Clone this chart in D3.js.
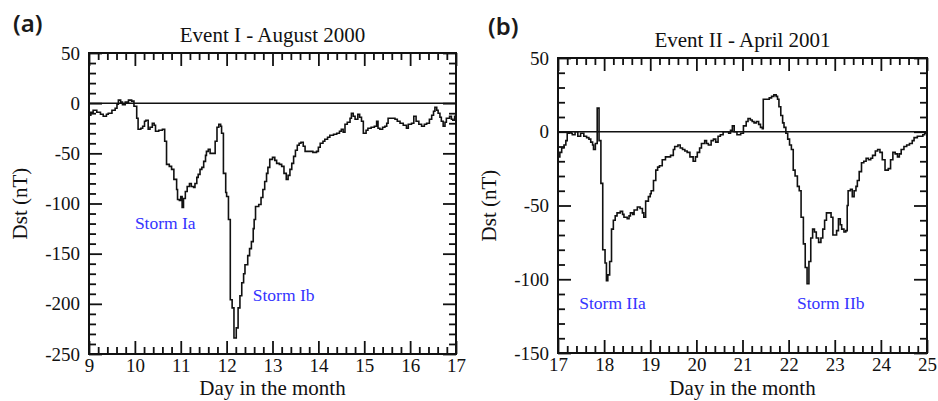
<!DOCTYPE html>
<html>
<head>
<meta charset="utf-8">
<script src="https://cdn.jsdelivr.net/npm/d3@7"></script>
<style>
  html, body { margin: 0; padding: 0; background: #fff; }
  svg { display: block; }
  .tick text { font-family: "Liberation Serif", "Times New Roman", serif; }
</style>
</head>
<body>
<svg id="chart" width="938" height="401"></svg>
<script>
// Hourly Dst index (nT) for two geomagnetic storm events, sampled as (day, value) steps.
const eventITitle = "Event I - August 2000";
const eventIITitle = "Event II - April 2001";

const dayTicksI = [9, 10, 11, 12, 13, 14, 15, 16, 17];
const dayTicksII = [17, 18, 19, 20, 21, 22, 23, 24, 25];
const dstTicksI = [50, 0, -50, -100, -150, -200, -250];
const dstTicksII = [50, 0, -50, -100, -150];

const daysI = [
  9.00, 9.04, 9.09, 9.17, 9.25, 9.31, 9.38, 9.42, 9.50, 9.57, 9.61, 9.64, 9.69, 9.73, 9.79, 9.86, 9.93, 9.98,
  10.04, 10.07, 10.13, 10.17, 10.21, 10.24, 10.29, 10.33, 10.38, 10.42, 10.45, 10.52, 10.60, 10.65, 10.69, 10.75,
  10.80, 10.85, 10.91, 10.93, 10.97, 11.00, 11.03, 11.06, 11.10, 11.14, 11.19, 11.23, 11.28, 11.31, 11.35, 11.38,
  11.42, 11.46, 11.50, 11.54, 11.56, 11.60, 11.64, 11.71, 11.75, 11.79, 11.83, 11.87, 11.89, 11.93, 11.98, 12.00,
  12.04, 12.08, 12.12, 12.16, 12.21, 12.25, 12.29, 12.33, 12.37, 12.40, 12.46, 12.50, 12.54, 12.58, 12.60, 12.63,
  12.70, 12.75, 12.79, 12.83, 12.87, 12.90, 12.94, 13.00, 13.05, 13.09, 13.15, 13.20, 13.25, 13.30, 13.34, 13.38,
  13.42, 13.46, 13.50, 13.54, 13.58, 13.62, 13.67, 13.71, 13.79, 13.88, 13.96, 14.00, 14.04, 14.10, 14.14, 14.20,
  14.25, 14.33, 14.40, 14.46, 14.50, 14.54, 14.58, 14.63, 14.69, 14.72, 14.76, 14.80, 14.86, 14.90, 14.94, 14.98,
  15.04, 15.08, 15.15, 15.22, 15.27, 15.30, 15.34, 15.40, 15.45, 15.49, 15.52, 15.58, 15.67, 15.72, 15.78, 15.85,
  15.92, 15.96, 16.03, 16.08, 16.13, 16.19, 16.25, 16.31, 16.36, 16.42, 16.47, 16.51, 16.54, 16.58, 16.61, 16.65,
  16.68, 16.72, 16.76, 16.79, 16.86, 16.90, 16.93, 16.97, 17.00
];
const dstI = [
  -12, -9, -7, -9, -11, -13, -11, -10, -7, -5, -1, 3, 1, -1.5, 1, 3, 2, -3,
  -15, -26, -25, -23, -18, -17, -26, -24, -20, -22, -28, -27, -26, -38, -61, -63,
  -66, -76, -86, -96, -97, -93, -104, -95, -88, -83, -80, -83, -84, -80, -74, -71,
  -66, -64, -58, -52, -48, -46, -50, -50, -38, -24, -21, -23, -30, -70, -89, -93,
  -116, -196, -204, -234, -224, -204, -192, -179, -170, -161, -152, -145, -138, -125, -116, -103,
  -101, -94, -86, -78, -70, -64, -56, -54, -57, -60, -61, -63, -70, -76, -72, -66,
  -60, -53, -47, -42, -40, -39, -43, -48, -48, -49, -48, -44, -40, -38, -36, -34,
  -32, -31, -30, -28, -26, -29, -21, -19, -15, -10, -13, -16, -11, -14, -18, -30,
  -27, -25, -24, -23, -18, -25, -26, -24, -23, -20, -15, -15, -16, -18, -20, -22,
  -25, -21, -20, -13, -18, -21, -23, -21, -20, -16, -12, -8, -4, -7, -10, -14,
  -18, -23, -19, -15, -13, -16, -17, -13, -13
];

const daysII = [
  17.00, 17.04, 17.08, 17.13, 17.17, 17.20, 17.25, 17.29, 17.31, 17.37, 17.43, 17.49, 17.56, 17.62, 17.67, 17.71,
  17.75, 17.77, 17.81, 17.85, 17.89, 17.93, 17.97, 18.02, 18.05, 18.08, 18.12, 18.16, 18.20, 18.24, 18.28, 18.35,
  18.40, 18.43, 18.50, 18.54, 18.57, 18.62, 18.65, 18.72, 18.78, 18.83, 18.86, 18.90, 18.96, 19.00, 19.02, 19.07,
  19.12, 19.16, 19.20, 19.26, 19.33, 19.40, 19.44, 19.50, 19.53, 19.60, 19.65, 19.70, 19.75, 19.80, 19.86, 19.93,
  19.98, 20.02, 20.07, 20.11, 20.18, 20.22, 20.26, 20.32, 20.37, 20.42, 20.47, 20.52, 20.58, 20.65, 20.70, 20.74,
  20.78, 20.82, 20.88, 20.96, 21.02, 21.08, 21.12, 21.17, 21.21, 21.25, 21.30, 21.35, 21.39, 21.43, 21.45, 21.52,
  21.58, 21.63, 21.68, 21.73, 21.76, 21.79, 21.83, 21.87, 21.90, 21.94, 21.98, 22.02, 22.06, 22.10, 22.14, 22.19,
  22.23, 22.27, 22.32, 22.36, 22.40, 22.44, 22.48, 22.52, 22.56, 22.60, 22.65, 22.70, 22.74, 22.78, 22.82, 22.87,
  22.92, 22.96, 23.00, 23.04, 23.08, 23.12, 23.15, 23.20, 23.24, 23.27, 23.29, 23.34, 23.38, 23.42, 23.46, 23.49,
  23.53, 23.58, 23.63, 23.68, 23.73, 23.78, 23.82, 23.88, 23.93, 23.98, 24.03, 24.09, 24.16, 24.21, 24.26, 24.31,
  24.36, 24.40, 24.44, 24.50, 24.56, 24.62, 24.68, 24.72, 24.79, 24.86, 24.91, 24.95, 25.00
];
const dstII = [
  -17, -14, -11, -9, -6, -1, 0, -1, -2, 0, -3, -1, -3, -4, -5, -7,
  -9, -12, -8, 16, -6, -35, -80, -89, -101, -97, -88, -66, -60, -57, -55, -54,
  -56, -58, -59, -57, -55, -56, -53, -51, -52, -55, -58, -47, -44, -42, -40, -33,
  -26, -24, -23, -19, -17, -17, -16, -12, -10, -9, -11, -12, -13, -14, -17, -20,
  -17, -14, -11, -8, -6, -8, -9, -6, -5, -7, -3, -2, 0, 0, -1, 1,
  4, 0, -2, -1, 4, 7, 9, 8, 7, 6, 7, 5, 3, 2, 22, 22,
  23, 24, 25, 24, 22, 17, 11, 6, 3, -1, -5, -9, -12, -26, -30, -37,
  -40, -58, -76, -92, -103, -88, -72, -66, -68, -72, -75, -72, -66, -60, -55, -55,
  -58, -70, -70, -67, -59, -63, -66, -68, -67, -50, -40, -39, -44, -40, -37, -33,
  -27, -21, -20, -18, -19, -18, -16, -13, -12, -14, -19, -26, -25, -19, -14, -15,
  -17, -15, -12, -10, -9, -8, -6, -4, -3, -3, -2, -1, 1
];

// storm name annotations, anchored at their left baseline (day, Dst)
const storms = [
  { panel: 0, text: "Storm Ia", day: 10.0, dst: -125 },
  { panel: 0, text: "Storm Ib", day: 12.57, dst: -197 },
  { panel: 1, text: "Storm IIa", day: 17.46, dst: -120 },
  { panel: 1, text: "Storm IIb", day: 22.18, dst: -120 }
];

const svg = d3.select("#chart");
const serif = '"Liberation Serif", "Times New Roman", serif';

const panels = [
  { tag: "(a)", tagX: 13, tagY: 32, title: eventITitle, titleY: 42,
    left: 89, right: 456, top: 53, bottom: 354,
    xDomain: [9, 17], yDomain: [-250, 50], xTicks: dayTicksI, yTicks: dstTicksI,
    days: daysI, dst: dstI },
  { tag: "(b)", tagX: 488, tagY: 35, title: eventIITitle, titleY: 47,
    left: 558, right: 927, top: 58, bottom: 353,
    xDomain: [17, 25], yDomain: [-150, 50], xTicks: dayTicksII, yTicks: dstTicksII,
    days: daysII, dst: dstII }
];

panels.forEach((p, i) => {
  const x = d3.scaleLinear().domain(p.xDomain).range([p.left, p.right]);
  const y = d3.scaleLinear().domain(p.yDomain).range([p.bottom, p.top]);
  const w = p.right - p.left, h = p.bottom - p.top;
  const g = svg.append("g");

  const xMinor = d3.range(p.xDomain[0], p.xDomain[1] + 1e-9, 0.2).filter(v => Math.abs(v - Math.round(v)) > 1e-6);
  const yMinor = d3.range(p.yDomain[0], p.yDomain[1] + 1e-9, 10).filter(v => v % 50 !== 0);

  const styleAxis = sel => {
    sel.select(".domain").remove();
    sel.selectAll(".tick line").attr("stroke", "#111").attr("stroke-width", 1.8);
    sel.selectAll(".tick text").attr("font-family", serif).attr("font-size", 19).attr("fill", "#111");
  };

  // bottom: labelled majors + minors, ticks pointing into the plot
  g.append("g").attr("transform", `translate(0,${p.bottom})`)
    .call(d3.axisBottom(x).tickValues(p.xTicks).tickFormat(d3.format("d")).tickSizeInner(-13).tickSizeOuter(0).tickPadding(5))
    .call(styleAxis);
  g.append("g").attr("transform", `translate(0,${p.bottom})`)
    .call(d3.axisBottom(x).tickValues(xMinor).tickFormat("").tickSizeInner(-7).tickSizeOuter(0))
    .call(styleAxis);
  // top
  g.append("g").attr("transform", `translate(0,${p.top})`)
    .call(d3.axisTop(x).tickValues(p.xTicks).tickFormat("").tickSizeInner(-13).tickSizeOuter(0))
    .call(styleAxis);
  g.append("g").attr("transform", `translate(0,${p.top})`)
    .call(d3.axisTop(x).tickValues(xMinor).tickFormat("").tickSizeInner(-7).tickSizeOuter(0))
    .call(styleAxis);
  // left
  g.append("g").attr("transform", `translate(${p.left},0)`)
    .call(d3.axisLeft(y).tickValues(p.yTicks).tickFormat(d3.format("d")).tickSizeInner(-13).tickSizeOuter(0).tickPadding(9))
    .call(styleAxis);
  g.append("g").attr("transform", `translate(${p.left},0)`)
    .call(d3.axisLeft(y).tickValues(yMinor).tickFormat("").tickSizeInner(-7).tickSizeOuter(0))
    .call(styleAxis);
  // right
  g.append("g").attr("transform", `translate(${p.right},0)`)
    .call(d3.axisRight(y).tickValues(p.yTicks).tickFormat("").tickSizeInner(-13).tickSizeOuter(0))
    .call(styleAxis);
  g.append("g").attr("transform", `translate(${p.right},0)`)
    .call(d3.axisRight(y).tickValues(yMinor).tickFormat("").tickSizeInner(-7).tickSizeOuter(0))
    .call(styleAxis);

  // tick labels use a plain hyphen for the minus sign
  g.selectAll(".tick text").text(function () { return this.textContent.replace("\u2212", "-"); });

  // zero reference line
  g.append("line")
    .attr("x1", p.left).attr("x2", p.right)
    .attr("y1", y(0)).attr("y2", y(0))
    .attr("stroke", "#111").attr("stroke-width", 1.5);

  // Dst trace as hourly steps
  const clipId = `clip${i}`;
  svg.append("clipPath").attr("id", clipId)
    .append("rect").attr("x", p.left).attr("y", p.top).attr("width", w).attr("height", h);
  const pts = p.days.map((d, k) => [d, p.dst[k]]);
  g.append("path")
    .datum(pts)
    .attr("clip-path", `url(#${clipId})`)
    .attr("fill", "none")
    .attr("stroke", "#111")
    .attr("stroke-width", 1.6)
    .attr("stroke-linejoin", "miter")
    .attr("d", d3.line().x(d => x(d[0])).y(d => y(d[1])).curve(d3.curveStepAfter));

  // frame
  g.append("rect")
    .attr("x", p.left).attr("y", p.top).attr("width", w).attr("height", h)
    .attr("fill", "none").attr("stroke", "#111").attr("stroke-width", 2);

  // storm labels
  storms.filter(s => s.panel === i).forEach(s => {
    g.append("text")
      .attr("x", x(s.day)).attr("y", y(s.dst))
      .attr("font-family", serif).attr("font-size", 17.5)
      .attr("fill", "#3434ff")
      .text(s.text);
  });

  // titles and axis names
  g.append("text")
    .attr("x", (p.left + p.right) / 2).attr("y", p.titleY)
    .attr("text-anchor", "middle")
    .attr("font-family", serif).attr("font-size", 21).attr("fill", "#111")
    .text(p.title);
  g.append("text")
    .attr("x", (p.left + p.right) / 2).attr("y", 395)
    .attr("text-anchor", "middle")
    .attr("font-family", serif).attr("font-size", 21).attr("fill", "#111")
    .text("Day in the month");
  g.append("text")
    .attr("transform", `translate(${p.left - 62},${(p.top + p.bottom) / 2}) rotate(-90)`)
    .attr("text-anchor", "middle")
    .attr("font-family", serif).attr("font-size", 21).attr("fill", "#111")
    .text("Dst (nT)");
  g.append("text")
    .attr("x", p.tagX).attr("y", p.tagY)
    .attr("font-family", '"Noto Sans", "Open Sans", sans-serif').attr("font-size", 24).attr("font-weight", 600).attr("fill", "#1a1a1a")
    .text(p.tag);
});
</script>
</body>
</html>
